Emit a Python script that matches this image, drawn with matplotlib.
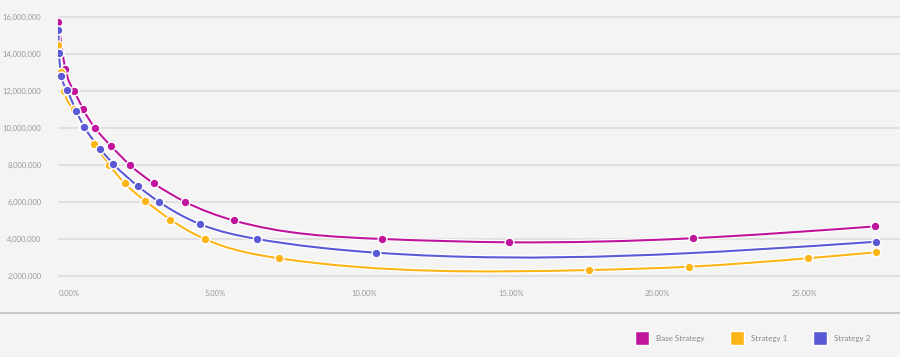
import numpy as np
import matplotlib
matplotlib.use("Agg")
import matplotlib.pyplot as plt
from matplotlib.path import Path
from matplotlib.patches import PathPatch
from matplotlib.lines import Line2D
import matplotlib.patheffects as pe
from matplotlib.ticker import FuncFormatter

# data (x in %, y in millions)
x_base = [0.0, 0.24, 0.53, 0.85, 1.25, 1.81, 2.44, 3.26, 4.33, 5.98, 11.03, 15.36, 21.63, 27.86]
y_base = [15.7, 13.2, 12.0, 11.0, 10.0, 9.0, 8.0, 7.0, 6.0, 5.0, 4.0, 3.82, 4.04, 4.68]

x_s1 = [0.0, 0.08, 0.19, 0.52, 0.85, 1.22, 1.74, 2.27, 2.97, 3.82, 4.99, 7.51, 18.08, 21.5, 25.57, 27.89]
y_s1 = [14.5, 13.05, 12.0, 11.0, 10.05, 9.15, 8.0, 7.0, 6.05, 5.05, 4.0, 2.96, 2.32, 2.5, 2.96, 3.28]

x_s2 = [0.0, 0.03, 0.1, 0.29, 0.61, 0.89, 1.43, 1.88, 2.71, 3.44, 4.82, 6.77, 10.83, 27.89]
y_s2 = [15.28, 14.04, 12.83, 12.04, 10.92, 10.05, 8.86, 8.05, 6.86, 6.0, 4.81, 4.0, 3.26, 3.85]

series_names = ["Base Strategy", "Strategy 1", "Strategy 2"]
colors = ["#c0149c", "#fdb417", "#5a5ad6"]

x_ticks = [0, 5, 10, 15, 20, 25]
y_ticks = [2e6, 4e6, 6e6, 8e6, 10e6, 12e6, 14e6, 16e6]

plt.rcParams["font.family"] = ["Lato", "DejaVu Sans"]
BG = "#f4f4f4"


def spline_slopes(xs, ys):
    # first derivatives of a natural cubic spline y(x)
    x = np.asarray(xs, float); y = np.asarray(ys, float)
    n = len(x)
    h = np.diff(x); d = np.diff(y) / h
    A = np.zeros((n, n)); r = np.zeros(n)
    A[0, 0], A[0, 1], r[0] = 2, 1, 3 * d[0]
    A[-1, -2], A[-1, -1], r[-1] = 1, 2, 3 * d[-1]
    for i in range(1, n - 1):
        A[i, i - 1] = h[i]
        A[i, i] = 2 * (h[i - 1] + h[i])
        A[i, i + 1] = h[i - 1]
        r[i] = 3 * (h[i] * d[i - 1] + h[i - 1] * d[i])
    return np.linalg.solve(A, r)


def smooth_path(xs, ys):
    m = spline_slopes(xs, ys)
    verts = [(xs[0], ys[0])]
    codes = [Path.MOVETO]
    for i in range(len(xs) - 1):
        h = xs[i + 1] - xs[i]
        verts += [(xs[i] + h / 3, ys[i] + m[i] * h / 3),
                  (xs[i + 1] - h / 3, ys[i + 1] - m[i + 1] * h / 3),
                  (xs[i + 1], ys[i + 1])]
        codes += [Path.CURVE4] * 3
    return Path(verts, codes)


fig = plt.figure(figsize=(9, 3.57), dpi=100, facecolor=BG)
ax = fig.add_axes([58 / 900, 1 - 283 / 357, 842 / 900, 272 / 357])
ax.set_facecolor(BG)

for xs, ys, c in zip([x_base, x_s1, x_s2], [y_base, y_s1, y_s2], colors):
    yv = np.array(ys) * 1e6
    patch = PathPatch(smooth_path(xs, yv), fill=False, edgecolor=c, lw=1.5, zorder=3,
                      path_effects=[pe.Stroke(linewidth=3.2, foreground="white"), pe.Normal()])
    ax.add_patch(patch)
    ax.plot(xs, yv, "o", ms=6.3, mfc=c, mec="white", mew=1.0, zorder=4)

ax.set_xlim(-0.01, 28.7)
ax.set_ylim(1.62e6, 16.32e6)
ax.set_xticks(x_ticks)
ax.set_yticks(y_ticks)
ax.xaxis.set_major_formatter(FuncFormatter(lambda v, p: f"{v:.2f}%"))
ax.yaxis.set_major_formatter(FuncFormatter(lambda v, p: f"{v:,.0f}"))
ax.tick_params(length=0, labelsize=5.5, labelcolor="#9a9a9a")
ax.tick_params(axis="y", pad=12)
ax.tick_params(axis="x", pad=5)
for lab in ax.get_xticklabels():
    lab.set_ha("left")
ax.yaxis.grid(True, color="#e0e0e0", lw=1.5)
ax.set_axisbelow(True)
for s in ax.spines.values():
    s.set_visible(False)

# separator above the legend
fig.add_artist(Line2D([0, 1], [1 - 313 / 357] * 2, transform=fig.transFigure,
                      color="#c8c8c8", lw=1.5))

handles = [Line2D([], [], marker="s", ls="none", ms=10.5, mfc=c, mec="white", mew=1.0)
           for c in colors]
fig.legend(handles, series_names, loc="center left", bbox_to_anchor=(633 / 900, 1 - 338.5 / 357),
           ncol=3, frameon=False, fontsize=5.8, labelcolor="#888888", handletextpad=1.1,
           columnspacing=3.5, borderpad=0, handlelength=1.2)

fig.savefig("out.png", dpi=100, facecolor=BG)
